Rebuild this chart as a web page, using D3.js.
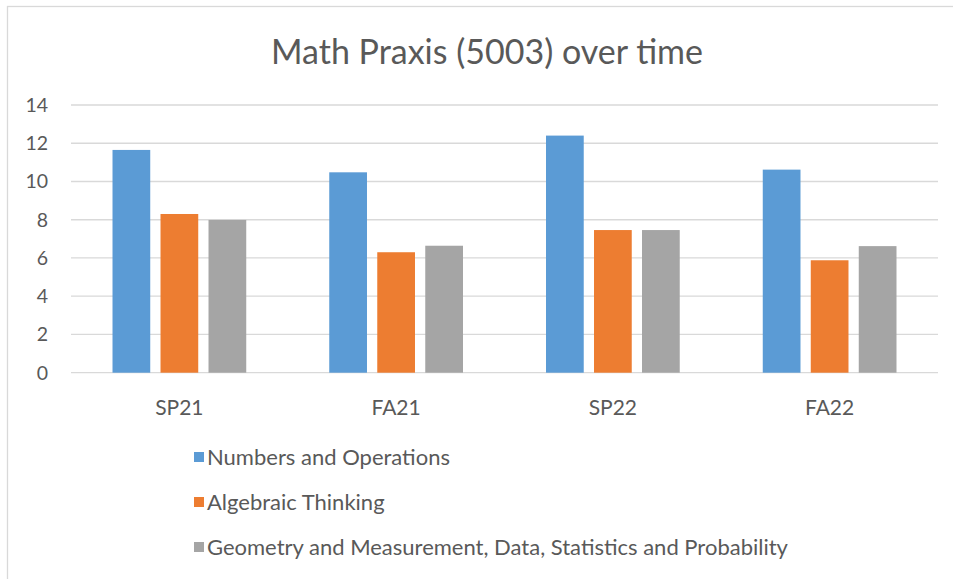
<!DOCTYPE html>
<html>
<head>
<meta charset="utf-8">
<script src="https://cdn.jsdelivr.net/npm/d3@7"></script>
<style>
  body { margin: 0; background: #fff; }
  text { font-family: Lato, "Open Sans", sans-serif; fill: #595959; }
</style>
</head>
<body>
<div id="chart"></div>
<script>
// data
const terms = ["SP21", "FA21", "SP22", "FA22"];
const seriesNames = [
  "Numbers and Operations",
  "Algebraic Thinking",
  "Geometry and Measurement, Data, Statistics and Probability"
];
const numbersOps = [11.65, 10.48, 12.4, 10.62];
const algebraic = [8.3, 6.3, 7.46, 5.88];
const geometry = [7.99, 6.64, 7.46, 6.62];
const yTicks = [0, 2, 4, 6, 8, 10, 12, 14];
const colors = ["#5B9BD5", "#ED7D31", "#A5A5A5"];

const width = 953;
const height = 579;

const seriesValues = [numbersOps, algebraic, geometry];
const rows = terms.map((t, i) => ({
  term: t,
  values: seriesValues.map((s, j) => ({ key: seriesNames[j], value: s[i], idx: j }))
}));

const svg = d3.select("#chart").append("svg")
  .attr("width", width)
  .attr("height", height);

// outer chart border
svg.append("rect")
  .attr("x", 7.5).attr("y", 6.5)
  .attr("width", 960).attr("height", 600)
  .attr("fill", "none")
  .attr("stroke", "#D9D9D9")
  .attr("stroke-width", 1.3);

svg.append("text")
  .attr("x", 487).attr("y", 64)
  .attr("text-anchor", "middle")
  .attr("font-size", 34)
  .text("Math Praxis (5003) over time");

const x = d3.scaleBand()
  .domain(terms)
  .range([71, 938]);

// bar width ~37.7px, small gap between bars inside a group
const groupWidth = x.bandwidth() * 0.617;
const x1 = d3.scaleBand()
  .domain(d3.range(3))
  .range([0, groupWidth])
  .paddingInner(0.214);

const y = d3.scaleLinear()
  .domain([0, 14])
  .range([372.7, 105]);

// gridlines
svg.append("g")
  .selectAll("line")
  .data(yTicks)
  .enter().append("line")
  .attr("x1", 71).attr("x2", 938)
  .attr("y1", d => y(d)).attr("y2", d => y(d))
  .attr("stroke", "#D9D9D9")
  .attr("stroke-width", 1.3);

// y labels
svg.append("g")
  .selectAll("text")
  .data(yTicks)
  .enter().append("text")
  .attr("x", 48)
  .attr("y", d => y(d))
  .attr("dy", "0.35em")
  .attr("text-anchor", "end")
  .attr("font-size", 19.5)
  .text(d => d);

// bars
const groups = svg.append("g")
  .selectAll("g")
  .data(rows)
  .enter().append("g")
  .attr("transform", d => `translate(${x(d.term) + (x.bandwidth() - groupWidth) / 2},0)`);

groups.selectAll("rect")
  .data(d => d.values)
  .enter().append("rect")
  .attr("x", d => x1(d.idx))
  .attr("y", d => y(d.value))
  .attr("width", x1.bandwidth())
  .attr("height", d => y(0) - y(d.value))
  .attr("fill", d => colors[d.idx]);

// x labels
svg.append("g")
  .selectAll("text")
  .data(terms)
  .enter().append("text")
  .attr("x", d => x(d) + x.bandwidth() / 2)
  .attr("y", 408)
  .attr("dy", "0.35em")
  .attr("text-anchor", "middle")
  .attr("font-size", 21)
  .text(d => d);

// legend, one entry per row
const legend = svg.append("g")
  .selectAll("g")
  .data(seriesNames)
  .enter().append("g")
  .attr("transform", (d, i) => `translate(194,${457 + i * 45})`);

legend.append("rect")
  .attr("x", 0).attr("y", -5)
  .attr("width", 10).attr("height", 10)
  .attr("fill", (d, i) => colors[i]);

legend.append("text")
  .attr("x", 13)
  .attr("dy", "0.35em")
  .attr("font-size", 22)
  .text(d => d);
</script>
</body>
</html>
